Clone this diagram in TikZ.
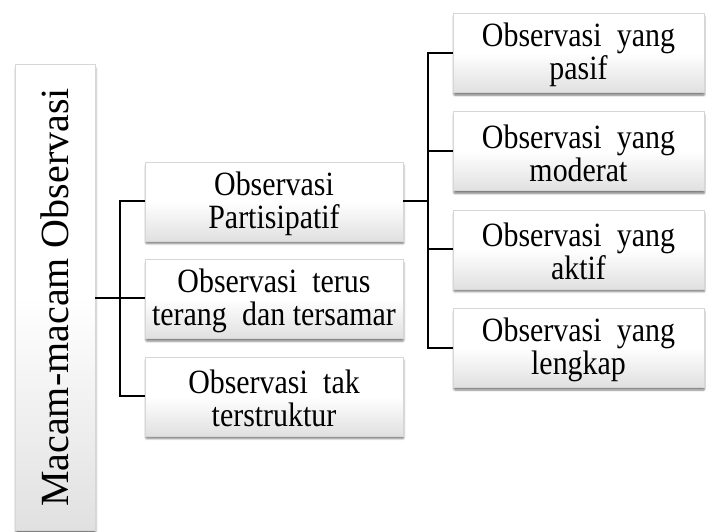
\documentclass[tikz,border=0pt]{standalone}
\usepackage{fontspec}
\setmainfont{Liberation Serif}
\newfontfamily\cardfont{Liberation Serif}[FakeStretch=0.88]
\usetikzlibrary{shadows.blur}

% wide word gap used inside the box labels
\newcommand{\wgap}{\hspace{0.45em}}

\tikzset{
  card/.style={
    rectangle, inner sep=0pt,
    top color=white, bottom color=black!12, middle color=white,
    draw=black!16, line width=0.4pt,
    blur shadow={shadow xshift=0.8pt, shadow yshift=-3pt, shadow blur steps=6,
                 shadow blur extra rounding=1pt, shadow opacity=50}
  },
  midcard/.style={card, minimum width=258pt, minimum height=79pt},
  rightcard/.style={card, minimum width=251pt, minimum height=79pt},
  cardtext/.style={inner sep=0pt, align=center, yshift=-2.5pt,
    font=\cardfont\fontsize{34}{33}\selectfont},
  tree/.style={draw=black, line width=2pt}
}

\begin{document}
\begin{tikzpicture}[x=1pt, y=-1pt]
  \useasboundingbox (0,0) rectangle (706,532);

  % root column
  \node[card, minimum width=80pt, minimum height=466pt] (main) at (55,297.5) {};
  \node[rotate=90, font=\fontsize{40}{42}\selectfont, inner sep=0pt] (mainlabel) at (main.center) {Macam-macam Observasi};

  % second level
  \node[midcard] (m1) at (274,201.2) {};
  \node[midcard] (m2) at (274,298.7) {};
  \node[midcard] (m3) at (274,396.2) {};
  \node[cardtext] (m1t) at (m1.center) {Observasi\\Partisipatif};
  \node[cardtext] (m2t) at (m2.center) {Observasi\wgap terus\\terang\wgap dan tersamar};
  \node[cardtext] (m3t) at (m3.center) {Observasi\wgap tak\\terstruktur};

  % third level
  \node[rightcard] (r1) at (578.5,52.8)  {};
  \node[rightcard] (r2) at (578.5,151.0) {};
  \node[rightcard] (r3) at (578.5,249.2) {};
  \node[rightcard] (r4) at (578.5,347.5) {};
  \node[cardtext] (r1t) at (r1.center) {Observasi\wgap yang\\pasif};
  \node[cardtext] (r2t) at (r2.center) {Observasi\wgap yang\\moderat};
  \node[cardtext] (r3t) at (r3.center) {Observasi\wgap yang\\aktif};
  \node[cardtext] (r4t) at (r4.center) {Observasi\wgap yang\\lengkap};

  % brackets from the root
  \draw[tree] (main.east) -- (main.east -| m2.west);
  \draw[tree] (m1.west) -- ++(-25,0) |- (m3.west);

  % brackets from the participatory branch
  \draw[tree] (m1.east) -- ++(25,0);
  \draw[tree] (r1.west) -- ++(-25,0) |- (r4.west);
  \draw[tree] (r2.west) -- ++(-25,0);
  \draw[tree] (r3.west) -- ++(-25,0);
\end{tikzpicture}
\end{document}
